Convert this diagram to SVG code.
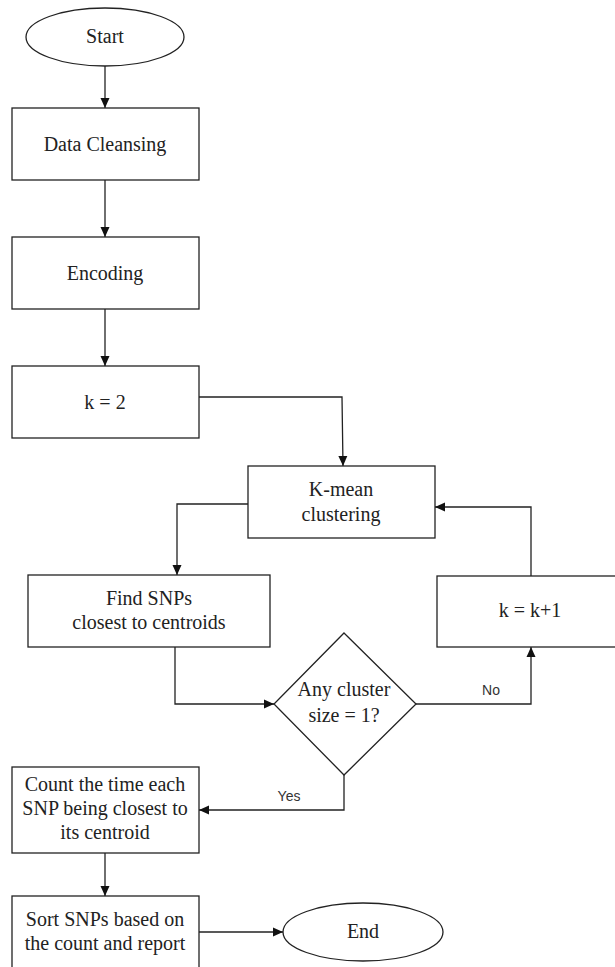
<svg xmlns="http://www.w3.org/2000/svg" width="615" height="967" viewBox="0 0 615 967">
<defs>
<marker id="ah" viewBox="0 0 10 10" refX="10" refY="5" markerWidth="10" markerHeight="10" markerUnits="userSpaceOnUse" orient="auto">
<path d="M0,0.5 L10,5 L0,9.5 Z" fill="#111"/>
</marker>
<style>
.n{fill:#fff;stroke:#222;stroke-width:1.3}
.t{font-family:'Liberation Serif','Tinos','Times New Roman','DejaVu Serif',serif;font-size:20px;fill:#222;text-anchor:middle}
.l{font-family:'Liberation Sans',Arial,sans-serif;font-size:14px;fill:#333;text-anchor:middle}
.c{fill:none;stroke:#222;stroke-width:1.3}
</style>
</defs>
<rect width="615" height="967" fill="#fff"/>
<g id="connectors">
<path class="c" d="M105,66 V108" marker-end="url(#ah)"/>
<path class="c" d="M105,180 V237" marker-end="url(#ah)"/>
<path class="c" d="M105,309 V366" marker-end="url(#ah)"/>
<path class="c" d="M198,397 H342 L343,466" marker-end="url(#ah)"/>
<path class="c" d="M248,504 H177 V575" marker-end="url(#ah)"/>
<path class="c" d="M175,647 V704 H274" marker-end="url(#ah)"/>
<path class="c" d="M416,704 H531 V647" marker-end="url(#ah)"/>
<path class="c" d="M531,576 V507 H435" marker-end="url(#ah)"/>
<path class="c" d="M344,775 V810 H199" marker-end="url(#ah)"/>
<path class="c" d="M105,853 V896" marker-end="url(#ah)"/>
<path class="c" d="M199,932 H283" marker-end="url(#ah)"/>
<text class="l" x="491" y="695">No</text>
<text class="l" x="289" y="801">Yes</text>
</g>
<g id="start"><ellipse class="n" cx="105" cy="37" rx="79" ry="29"/><text class="t" x="105" y="43">Start</text></g>
<g id="cleansing"><rect class="n" x="12" y="108" width="187" height="72"/><text class="t" x="105" y="151">Data Cleansing</text></g>
<g id="encoding"><rect class="n" x="12" y="237" width="187" height="72"/><text class="t" x="105" y="280">Encoding</text></g>
<g id="k2"><rect class="n" x="12" y="366" width="187" height="72"/><text class="t" x="105" y="409">k = 2</text></g>
<g id="kmean"><rect class="n" x="248" y="466" width="187" height="72"/><text class="t" x="341" y="496">K-mean</text><text class="t" x="341" y="521">clustering</text></g>
<g id="findsnps"><rect class="n" x="28" y="575" width="242" height="72"/><text class="t" x="149" y="605">Find SNPs</text><text class="t" x="149" y="629">closest to centroids</text></g>
<g id="kinc"><rect class="n" x="437" y="576" width="186" height="71"/><text class="t" x="530" y="617">k = k+1</text></g>
<g id="decision"><polygon class="n" points="344,633 416,704 344,775 274,704"/><text class="t" x="344" y="696">Any cluster</text><text class="t" x="344" y="722">size = 1?</text></g>
<g id="count"><rect class="n" x="12" y="767" width="187" height="86"/><text class="t" x="105" y="791">Count the time each</text><text class="t" x="105" y="815">SNP being closest to</text><text class="t" x="105" y="839">its centroid</text></g>
<g id="sort"><rect class="n" x="12" y="896" width="187" height="72"/><text class="t" x="105" y="926">Sort SNPs based on</text><text class="t" x="105" y="950">the count and report</text></g>
<g id="end"><ellipse class="n" cx="363" cy="932" rx="80" ry="29"/><text class="t" x="363" y="938">End</text></g>
</svg>
